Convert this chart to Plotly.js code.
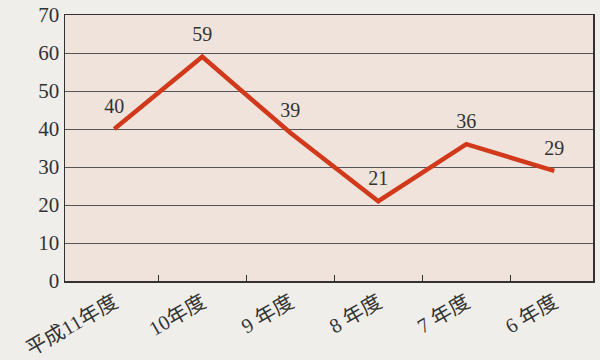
<!DOCTYPE html>
<html><head><meta charset="utf-8">
<script src="https://cdn.plot.ly/plotly-3.0.1.min.js"></script>
<style>html,body{margin:0;padding:0;background:#efeeeb;}</style>
</head><body>
<div id="chart" style="width:600px;height:360px;"></div>
<script>
const categories = ["平成11年度", "10年度", "9 年度", "8 年度", "7 年度", "6 年度"];
const values = [40, 59, 39, 21, 36, 29];
const yTicks = [0, 10, 20, 30, 40, 50, 60, 70];

const catIndex = categories.map((c, i) => i);
const xRange = [-0.56, categories.length - 0.56];
// tick marks sit on the boundaries between categories (not on the outer edges)
const boundaryTicks = categories.slice(1).map((c, i) => i + 0.5);

const trace = {
  x: catIndex,
  y: values,
  type: "scatter",
  mode: "lines+markers+text",
  line: {color: "#d2391b", width: 4.5},
  marker: {size: 16, opacity: 0, color: "#d2391b"},
  text: values.map(String),
  textposition: "top center",
  textfont: {family: "Liberation Serif, serif", size: 20, color: "#333"},
  cliponaxis: false,
  hoverinfo: "none"
};

const layout = {
  width: 600, height: 360,
  margin: {l: 65, r: 7, t: 15, b: 79},
  paper_bgcolor: "#efeeeb",
  plot_bgcolor: "#efe3dc",
  showlegend: false,
  font: {family: "Liberation Serif, 'Noto Sans CJK JP', serif", color: "#333"},
  xaxis: {
    type: "linear",
    tickvals: catIndex,
    ticktext: categories,
    ticks: "",
    tickangle: -30,
    automargin: false,
    tickfont: {family: "Liberation Serif, 'Noto Sans CJK JP', serif", size: 20.5, color: "#333"},
    minor: {
      tickvals: boundaryTicks,
      ticks: "inside",
      ticklen: 6,
      tickcolor: "#333",
      tickwidth: 1.2,
      showgrid: false
    },
    showline: true, linecolor: "#333", linewidth: 1.5, mirror: true,
    showgrid: false,
    zeroline: false,
    range: xRange,
    fixedrange: true
  },
  yaxis: {
    range: [0, 70],
    tickvals: yTicks,
    ticktext: yTicks.map(String),
    ticks: "",
    tickfont: {family: "Liberation Serif, serif", size: 21, color: "#333"},
    showline: true, linecolor: "#333", linewidth: 1.5, mirror: true,
    showgrid: true, gridcolor: "#555", gridwidth: 1,
    zeroline: false,
    fixedrange: true
  }
};

Plotly.newPlot("chart", [trace], layout, {displayModeBar: false, staticPlot: true});
</script>
</body></html>
